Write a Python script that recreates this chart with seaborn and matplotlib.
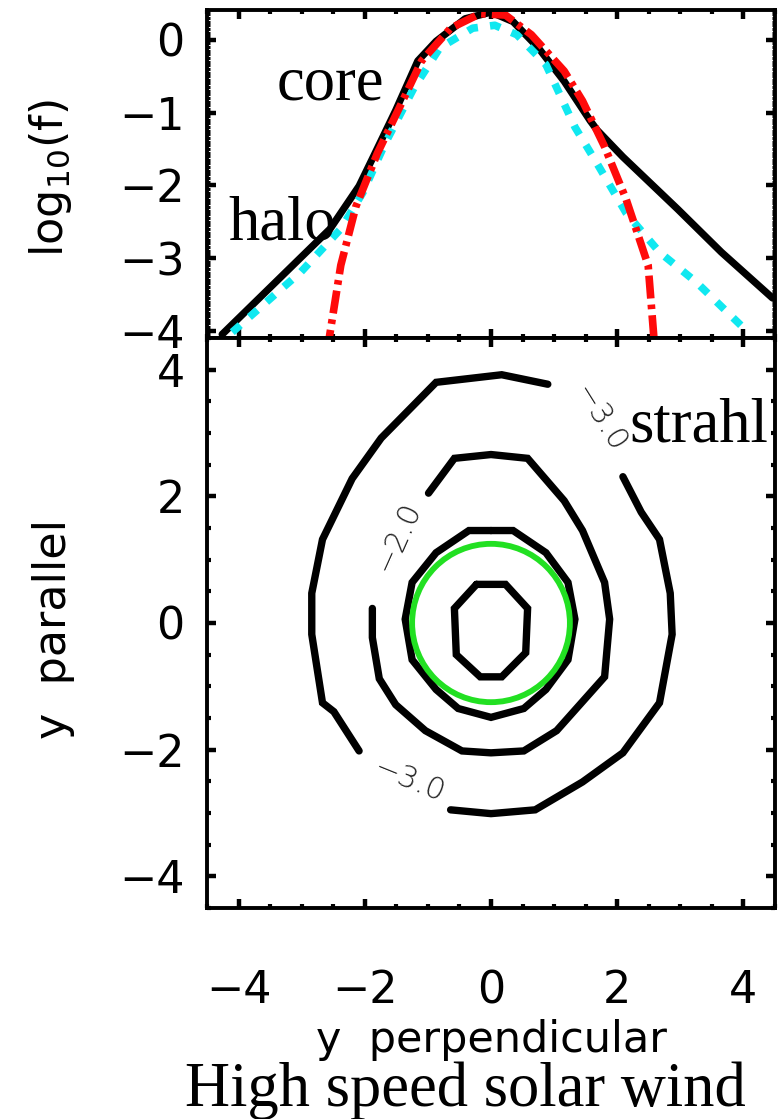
import numpy as np
import pandas as pd
import matplotlib
matplotlib.use("Agg")
import matplotlib.pyplot as plt
import seaborn as sns
from matplotlib.ticker import MultipleLocator, FixedLocator
from matplotlib.patches import Circle

# ---------------- data: top panel (cuts of log10 f) ----------------
total_x = [-4.26, -2.55, -2.09, -1.86, -1.51, -1.16, -0.87, -0.41, 0.00, 0.35,
           0.75, 1.16, 1.57, 1.68, 2.09, 2.96, 3.65, 4.46]
total_y = [-4.05, -2.60, -2.01, -1.60, -0.97, -0.29, -0.02, 0.29, 0.38, 0.25,
           -0.11, -0.57, -1.11, -1.24, -1.61, -2.33, -2.92, -3.55]

halo_x = [-4.10, -3.42, -3.01, -2.38, -2.03, -1.68, -1.22, -0.81, -0.29, 0.06,
          0.41, 0.87, 1.33, 1.68, 2.14, 2.67, 3.25, 4.00]
halo_y = [-4.02, -3.50, -3.19, -2.60, -2.10, -1.43, -0.66, -0.11, 0.16, 0.20,
          0.07, -0.34, -1.20, -1.70, -2.38, -2.92, -3.33, -3.96]

core_x = [-2.60, -2.38, -2.14, -1.80, -1.45, -1.10, -0.64, -0.17, 0.23, 0.64,
          1.16, 1.45, 1.80, 2.14, 2.49, 2.60]
core_y = [-4.30, -3.10, -2.29, -1.56, -0.93, -0.29, 0.16, 0.36, 0.34, 0.07,
          -0.43, -0.84, -1.47, -2.19, -3.10, -4.30]

# ---------------- data: bottom panel (contours of log10 f) ----------------
c3a_x = [0.90, 0.17, -0.87, -1.74, -2.20, -2.67, -2.84, -2.84, -2.67, -2.49, -2.09]
c3a_y = [3.77, 3.92, 3.80, 2.92, 2.28, 1.32, 0.47, -0.18, -1.26, -1.40, -2.02]
c3b_x = [-0.64, 0.00, 0.70, 1.45, 2.09, 2.67, 2.87, 2.84, 2.67, 2.38, 2.09]
c3b_y = [-2.95, -3.01, -2.95, -2.51, -2.05, -1.26, -0.18, 0.47, 1.32, 1.75, 2.31]

c2_x = [-0.99, -0.58, 0.00, 0.58, 1.16, 1.45, 1.80, 1.88, 1.80, 1.04, 0.52, 0.00,
        -0.46, -1.04, -1.51, -1.77, -1.88, -1.88]
c2_y = [2.05, 2.60, 2.66, 2.60, 1.93, 1.46, 0.64, 0.06, -0.85, -1.70, -2.02, -2.05,
        -2.02, -1.70, -1.29, -0.88, -0.23, 0.23]

c1_x = [0.00, 0.35, 0.87, 1.22, 1.33, 1.22, 0.87, 0.52, 0.00, -0.52, -0.87, -1.25,
        -1.36, -1.25, -0.87, -0.35, 0.00]
c1_y = [1.46, 1.46, 1.11, 0.64, 0.06, -0.58, -1.05, -1.35, -1.49, -1.35, -1.05, -0.58,
        0.06, 0.64, 1.11, 1.46, 1.46]

c0_x = [-0.23, 0.23, 0.58, 0.55, 0.17, -0.17, -0.55, -0.58, -0.23]
c0_y = [0.61, 0.61, 0.23, -0.47, -0.85, -0.85, -0.50, 0.23, 0.61]

circle_center = (0.0, 0.0)
circle_radius = 1.25

contour_labels = ["\u22123.0", "\u22122.0", "\u22123.0"]
label_x = [1.72, -1.48, -1.29]
label_y = [3.22, 1.37, -2.50]
label_rot = [-58, 66, -22]

xticks = [-4, -2, 0, 2, 4]
top_yticks = [0, -1, -2, -3, -4]
bot_yticks = [-4, -2, 0, 2, 4]

# ---------------- figure ----------------
sns.set_style("ticks")
plt.rcParams['font.family'] = ['DejaVu Sans']
plt.rcParams['text.color'] = 'black'
plt.rcParams['axes.labelcolor'] = 'black'
plt.rcParams['xtick.labelcolor'] = 'black'
plt.rcParams['ytick.labelcolor'] = 'black'
W, H = 778, 1119
fig = plt.figure(figsize=(W / 100, H / 100), dpi=100)

def ax_rect(l, t, r, b):
    return [l / W, 1 - b / H, (r - l) / W, (b - t) / H]

ax1 = fig.add_axes(ax_rect(207, 10, 775, 338))
ax2 = fig.add_axes(ax_rect(207, 338, 775, 908))

for ax in (ax1, ax2):
    for s in ax.spines.values():
        s.set_linewidth(2.8)
        s.set_color("black")
    ax.tick_params(which="both", direction="in", top=True, right=True,
                   color="black", labelcolor="black")
    ax.tick_params(which="major", length=6.5, width=3.2, labelsize=32, pad=16)
    ax.tick_params(which="minor", length=3, width=3.0)
    ax.set_xlim(-4.5, 4.5)
    ax.xaxis.set_major_locator(FixedLocator(xticks))
    ax.xaxis.set_minor_locator(MultipleLocator(0.5))

# top panel
sns.lineplot(x=total_x, y=total_y, ax=ax1, sort=False, estimator=None,
             color="black", lw=5.2)
sns.lineplot(x=halo_x, y=halo_y, ax=ax1, sort=False, estimator=None,
             color="#10e8f0", lw=5.5, linestyle=(0, (1.4, 1.6)))
sns.lineplot(x=core_x, y=core_y, ax=ax1, sort=False, estimator=None,
             color="#ff0a0a", lw=5.5, linestyle=(0, (3.0, 0.8, 0.6, 0.8)))
ax1.set_ylim(-4.1, 0.41)
ax1.yaxis.set_major_locator(FixedLocator(top_yticks))
ax1.yaxis.set_minor_locator(MultipleLocator(0.05))
ax1.tick_params(axis="y", which="minor", length=2.2, width=2.2)
ax1.tick_params(axis="x", labelbottom=False)
ax1.set_ylabel(r"log$_{\mathregular{10}}$(f)", fontsize=32)
ax1.yaxis.set_label_coords(-0.276, 0.486)
ax1.yaxis.label.set_va("center")

# bottom panel
for cx, cy in [(c3a_x, c3a_y), (c3b_x, c3b_y), (c2_x, c2_y), (c1_x, c1_y), (c0_x, c0_y)]:
    sns.lineplot(x=cx, y=cy, ax=ax2, sort=False, estimator=None,
                 color="black", lw=5.3, solid_joinstyle="miter")
ax2.add_patch(Circle(circle_center, circle_radius, fill=False,
                     edgecolor="#22e022", lw=4.2, zorder=3))
for t, x, y, r in zip(contour_labels, label_x, label_y, label_rot):
    ax2.text(x, y, t, rotation=r, rotation_mode="anchor", ha="center",
             va="center", fontsize=22, color="#222222", fontweight="light")
ax2.set_ylim(-4.5, 4.5)
ax2.yaxis.set_major_locator(FixedLocator(bot_yticks))
ax2.yaxis.set_minor_locator(MultipleLocator(0.5))
ax2.tick_params(axis="x", which="major", pad=44)
ax2.set_xlabel("y  perpendicular", fontsize=31, va="center")
ax2.xaxis.set_label_coords(0.5, -0.232)
ax2.set_ylabel("y  parallel", fontsize=32, va="center")
ax2.yaxis.set_label_coords(-0.271, 0.49)

# annotations
serif = ["Liberation Serif", "DejaVu Serif"]
def ftext(x, y, s, **kw):
    fig.text(x / W, 1 - y / H, s, family=serif, fontsize=45, va="baseline",
             color="black", **kw)

ftext(277, 100, "core")
ftext(228, 240, "halo")
ftext(629, 442, "strahl")
ftext(465, 1106, "High speed solar wind", ha="center")

fig.savefig("out.png", dpi=100)
